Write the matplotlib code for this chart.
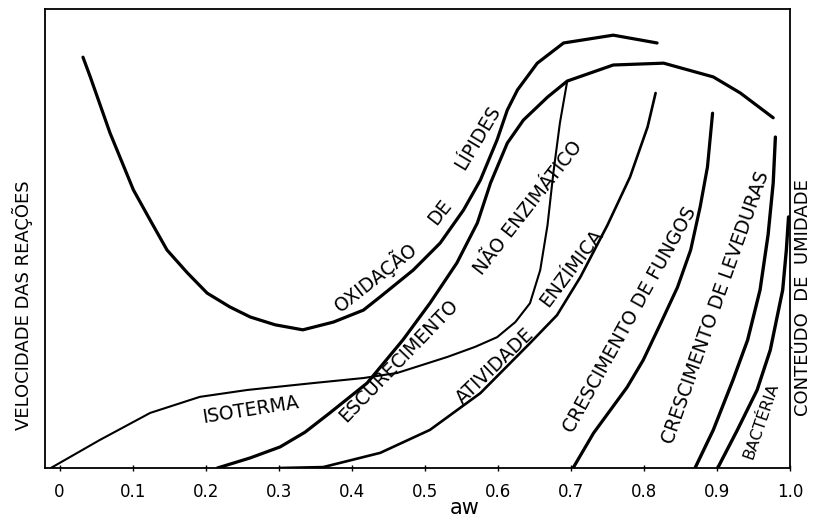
import matplotlib.pyplot as plt
import numpy as np

# water activity (aw) / relative rate
oxid_aw = [0.032, 0.042, 0.069, 0.101, 0.124, 0.147, 0.175, 0.202, 0.233, 0.261, 0.295,
           0.333, 0.375, 0.416, 0.439, 0.484, 0.521, 0.553, 0.576, 0.599, 0.613, 0.627,
           0.654, 0.690, 0.758, 0.818]
oxid_v = [0.895, 0.852, 0.730, 0.606, 0.540, 0.475, 0.425, 0.381, 0.351, 0.329, 0.312,
          0.301, 0.318, 0.344, 0.373, 0.431, 0.490, 0.562, 0.627, 0.715, 0.780, 0.824,
          0.882, 0.926, 0.943, 0.926]

escur_aw = [0.216, 0.261, 0.302, 0.336, 0.370, 0.421, 0.470, 0.507, 0.544, 0.572, 0.590,
            0.613, 0.635, 0.668, 0.695, 0.758, 0.827, 0.895, 0.932, 0.977]
escur_v = [0.000, 0.022, 0.046, 0.078, 0.120, 0.185, 0.279, 0.359, 0.447, 0.534, 0.621,
           0.708, 0.758, 0.808, 0.843, 0.878, 0.882, 0.852, 0.817, 0.763]

iso_aw = [-0.012, 0.055, 0.124, 0.192, 0.257, 0.347, 0.416, 0.462, 0.531, 0.569, 0.599,
          0.624, 0.644, 0.658, 0.668, 0.676, 0.685, 0.695]
iso_v = [0.000, 0.061, 0.120, 0.155, 0.170, 0.185, 0.196, 0.207, 0.242, 0.264, 0.285,
         0.318, 0.359, 0.431, 0.529, 0.643, 0.752, 0.843]

ativ_aw = [0.302, 0.361, 0.439, 0.507, 0.576, 0.644, 0.681, 0.713, 0.750, 0.781, 0.805, 0.816]
ativ_v = [0.000, 0.002, 0.033, 0.083, 0.163, 0.272, 0.333, 0.416, 0.529, 0.634, 0.743, 0.817]

fungos_aw = [0.703, 0.731, 0.777, 0.799, 0.822, 0.846, 0.864, 0.877, 0.887, 0.894]
fungos_v = [0.000, 0.076, 0.176, 0.235, 0.312, 0.394, 0.475, 0.569, 0.656, 0.773]

lev_aw = [0.870, 0.895, 0.922, 0.942, 0.959, 0.970, 0.977, 0.980]
lev_v = [0.000, 0.083, 0.192, 0.279, 0.388, 0.508, 0.621, 0.721]

bact_aw = [0.901, 0.928, 0.955, 0.973, 0.990, 0.995, 0.998]
bact_v = [0.000, 0.083, 0.170, 0.257, 0.388, 0.475, 0.547]

ticks = [0.0, 0.1, 0.2, 0.3, 0.4, 0.5, 0.6, 0.7, 0.8, 0.9, 1.0]
tick_labels = ["0", "0.1", "0.2", "0.3", "0.4", "0.5", "0.6", "0.7", "0.8", "0.9", "1.0"]

plt.rcParams['font.family'] = ['DejaVu Sans']

fig = plt.figure(figsize=(8.18, 5.22), dpi=100)
ax = fig.add_axes([45 / 818, 54 / 522, 745 / 818, 459 / 522])

kw = dict(color='black', solid_capstyle='round', solid_joinstyle='round')
ax.plot(oxid_aw, oxid_v, lw=2.3, **kw)
ax.plot(escur_aw, escur_v, lw=2.3, **kw)
ax.plot(iso_aw, iso_v, lw=1.5, **kw)
ax.plot(ativ_aw, ativ_v, lw=1.9, **kw)
ax.plot(fungos_aw, fungos_v, lw=2.3, **kw)
ax.plot(lev_aw, lev_v, lw=2.4, **kw)
ax.plot(bact_aw, bact_v, lw=2.4, **kw)

ax.set_xlim(-0.02, 1.0)
ax.set_ylim(0, 1)
ax.set_xticks(ticks)
ax.set_xticklabels(tick_labels, fontsize=12)
ax.set_yticks([])
ax.tick_params(axis='x', direction='inout', length=5, width=1, pad=8)
for s in ax.spines.values():
    s.set_linewidth(1.3)

# curve labels
fs = 13.5
ax.text(0.261, 0.126, "ISOTERMA", rotation=9, fontsize=fs, ha='center', va='center')
ax.text(0.432, 0.416, "OXIDAÇÃO", rotation=38, fontsize=fs, ha='center', va='center')
ax.text(0.521, 0.558, "DE", rotation=52, fontsize=fs, ha='center', va='center')
ax.text(0.573, 0.719, "LÍPIDES", rotation=59, fontsize=fs, ha='center', va='center')
ax.text(0.464, 0.233, "ESCURECIMENTO", rotation=46, fontsize=fs, ha='center', va='center')
ax.text(0.642, 0.566, "NÃO ENZIMÁTICO", rotation=52, fontsize=fs, ha='center', va='center')
ax.text(0.596, 0.222, "ATIVIDADE", rotation=44, fontsize=fs, ha='center', va='center')
ax.text(0.701, 0.436, "ENZÍMICA", rotation=53, fontsize=fs, ha='center', va='center')
ax.text(0.781, 0.322, "CRESCIMENTO DE FUNGOS", rotation=61, fontsize=fs, ha='center', va='center')
ax.text(0.898, 0.349, "CRESCIMENTO DE LEVEDURAS", rotation=70.5, fontsize=fs,
        ha='center', va='center')
ax.text(0.961, 0.102, "BACTÉRIA", rotation=71, fontsize=11.5, ha='center', va='center')

fig.text(22 / 818, 1 - 305 / 522, "VELOCIDADE DAS REAÇÕES", rotation=90, fontsize=13,
         ha='center', va='center')
fig.text(803 / 818, 1 - 298 / 522, "CONTEÚDO  DE  UMIDADE", rotation=90, fontsize=13,
         ha='center', va='center')
fig.text(465 / 818, 1 - 508 / 522, "aw", fontsize=15, ha='center', va='center')

fig.savefig("out.png", dpi=100)
